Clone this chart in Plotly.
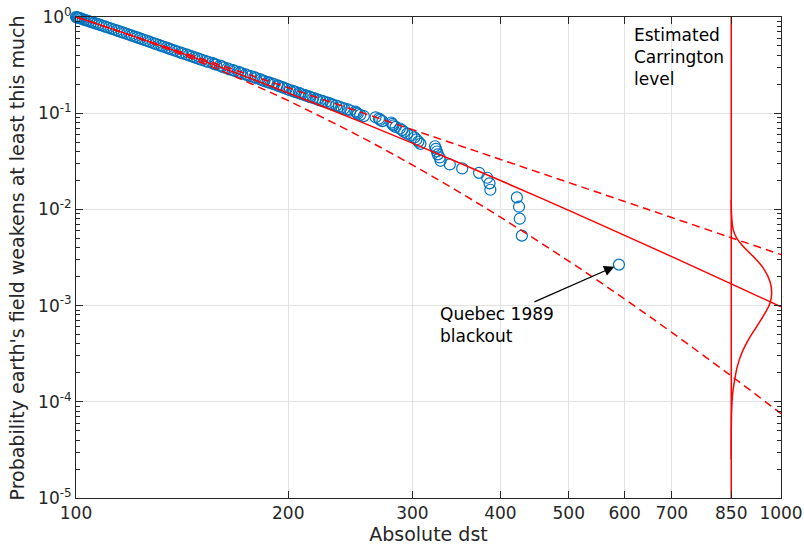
import math
import plotly.graph_objects as go

# ---------------- data ----------------
n_storms = 375
storm_rank = [
    1, 2, 3, 4, 5, 6, 7, 8, 9, 10, 11, 12, 13, 14, 15, 16, 17, 18, 19, 20,
    21, 22, 23, 24, 25, 26, 27, 28, 29, 30, 31, 32, 33, 34, 35, 36, 37, 38, 39, 40,
    41, 42,
    43, 44, 45, 46, 47, 48, 49, 50, 51, 52,
    53, 54, 55, 56, 57, 58, 59, 60, 61, 62,
    63, 64, 65, 67, 69, 70, 72, 73, 75, 76,
    78, 79, 81, 82, 84, 85, 87, 89, 91, 93,
    95, 97, 99, 101, 103, 105, 107, 110, 112, 115,
    117, 120, 122, 125, 128, 131, 134, 137, 140, 143,
    146, 150, 153, 157, 160, 164, 168, 172, 176, 180,
    184, 188, 192, 197, 201, 206, 210, 215, 220, 225,
    230, 235, 240, 245, 250, 256, 261, 267, 272, 278,
    284, 290, 296, 302, 308, 314, 320, 326, 332, 338,
    344, 350, 355, 360, 364, 367, 370, 372, 375,
]
storm_dst = [
    589, 429, 426, 425, 422, 387, 386, 383, 373, 353,
    339, 329, 328, 326, 325, 324, 323, 308, 306, 304,
    302, 299, 295, 292, 290, 288, 284, 282, 281, 280,
    272, 270, 269, 266, 256, 253, 251, 250, 249, 245,
    243, 240,
    238, 236, 234, 231, 230, 228, 226, 224, 222, 220,
    219, 217, 215, 214, 212, 211, 209, 208, 207, 205,
    204, 203, 201, 199, 197, 196, 194, 193, 191, 190,
    188, 187, 185, 184, 183, 182, 180, 179, 177, 175,
    174, 172, 171, 170, 168, 167, 165, 164, 162, 161,
    160, 158, 157, 156, 153.9, 152.5, 151.0, 149.8, 148.5, 147.2,
    146.0, 144.5, 143.4, 141.6, 140.8, 139.3, 138.1, 136.7, 135.6, 134.4,
    133.2, 132.1, 131.0, 129.7, 128.7, 127.5, 126.5, 125.4, 124.3, 123.2,
    122.1, 121.1, 120.0, 119.1, 118.1, 117.0, 116.1, 115.0, 114.2, 113.2,
    112.2, 111.2, 110.3, 109.4, 108.5, 107.7, 106.8, 106.0, 105.2, 104.4,
    103.7, 102.9, 102.3, 101.7, 101.3, 100.9, 100.6, 100.3, 100.0,
]
storm_prob = [r / n_storms for r in storm_rank]

# fitted tail model and its confidence band
model_dst = [100, 110, 120, 140, 160, 180, 200, 250, 300, 350, 400, 500, 600, 700, 850, 1000]
model_fit = [1.0, 0.7949, 0.6406, 0.4311, 0.3019, 0.2184, 0.1622, 0.08472, 0.04891,
             0.03037, 0.01996, 0.009758, 0.005376, 0.003227, 0.001684, 0.000971]
model_upper = [1.0, 0.7933, 0.6419, 0.4406, 0.3176, 0.2378, 0.1836, 0.1058, 0.06747,
               0.04606, 0.03307, 0.01901, 0.01208, 0.00823, 0.005075, 0.003385]
model_lower = [1.0, 0.7948, 0.6366, 0.4170, 0.2802, 0.1924, 0.1349, 0.0598, 0.02897,
               0.01506, 0.008302, 0.002902, 0.001171, 0.0005265, 0.0001856, 0.0000753]

# Carrington level and distribution of the estimated probability there
carrington_dst = 850
carr_log_prob = [-1.90, -2.00, -2.074, -2.213, -2.299, -2.386, -2.490, -2.611, -2.750,
                 -2.871, -2.975, -3.079, -3.218, -3.357, -3.495, -3.634, -3.773, -3.911,
                 -4.085, -4.327, -4.60]
carr_curve_dst = [850.0, 850.3, 851.2, 855.6, 865.3, 884.1, 913.5, 943.9, 964.7,
                  970.0, 964.7, 949.1, 923.7, 898.8, 879.5, 866.9, 859.6, 854.0,
                  851.2, 850.0, 850.0]

x_ticks = [100, 200, 300, 400, 500, 600, 700, 850, 1000]
y_ticks = [1e-5, 1e-4, 1e-3, 1e-2, 1e-1, 1]
y_ticktext = ["10<sup>-5</sup>", "10<sup>-4</sup>", "10<sup>-3</sup>",
              "10<sup>-2</sup>", "10<sup>-1</sup>", "10<sup>0</sup>"]
y_minor = [k * 10.0 ** d for d in range(-5, 0) for k in range(2, 10)]

# ---------------- styles ----------------
BLUE = "#0072BD"
RED = "#FF0000"
AX = "#262626"
FONT = "DejaVu Sans"

fig = go.Figure()

fig.add_trace(go.Scatter(
    x=storm_dst, y=storm_prob, mode="markers",
    marker=dict(symbol="circle-open", size=11, color=BLUE, line=dict(width=1.2, color=BLUE)),
    cliponaxis=False, showlegend=False, hoverinfo="skip"))

fig.add_trace(go.Scatter(
    x=[carrington_dst, carrington_dst], y=[1e-5, 1], mode="lines",
    line=dict(color=RED, width=1.5), showlegend=False))

fig.add_trace(go.Scatter(
    x=carr_curve_dst, y=[10 ** v for v in carr_log_prob], mode="lines",
    line=dict(color=RED, width=1.5, shape="spline"), showlegend=False))

fig.add_trace(go.Scatter(
    x=model_dst, y=model_fit, mode="lines",
    line=dict(color=RED, width=1.5, shape="spline"), showlegend=False))
for band in (model_upper, model_lower):
    fig.add_trace(go.Scatter(
        x=model_dst, y=band, mode="lines",
        line=dict(color=RED, width=1.5, dash="8px,5px", shape="spline"), showlegend=False))

axis_common = dict(
    showline=True, linecolor=AX, linewidth=1, mirror="ticks",
    ticks="inside", ticklen=7, tickcolor=AX, tickwidth=1,
    showgrid=True, gridcolor="#e2e2e2", gridwidth=1, zeroline=False,
    tickfont=dict(family=FONT, size=17, color=AX),
    automargin=False,
)

fig.update_xaxes(
    type="log", range=[2, 3], tickmode="array", tickvals=x_ticks,
    ticktext=[str(v) for v in x_ticks],
    title=dict(text="Absolute dst", font=dict(family=FONT, size=19, color=AX), standoff=10),
    **axis_common)
fig.update_yaxes(
    type="log", range=[-5, 0], tickmode="array", tickvals=y_ticks, ticktext=y_ticktext,
    minor=dict(tickmode="array", tickvals=y_minor, ticks="inside", ticklen=4,
               tickcolor=AX, showgrid=False),
    **axis_common)

quebec_x = storm_dst[0]
quebec_y = storm_prob[0]

fig.update_layout(
    width=804, height=545,
    margin=dict(l=76, r=23, t=17, b=47),
    paper_bgcolor="white", plot_bgcolor="white",
    font=dict(family=FONT, size=16, color=AX),
    annotations=[
        dict(x=-0.0837, y=0.5, xref="paper", yref="paper",
             text="Probability earth's field weakens at least this much",
             textangle=-90, showarrow=False, xanchor="center", yanchor="middle",
             font=dict(family=FONT, size=19, color=AX)),
        dict(x=math.log10(quebec_x), y=math.log10(quebec_y), xref="x", yref="y",
             text="", showarrow=True, arrowhead=2, arrowsize=1.6, arrowwidth=1.3,
             arrowcolor="black", ax=-86, ay=38, standoff=5),
        dict(x=math.log10(326), y=math.log10(6.3e-4), xref="x", yref="y",
             text="Quebec 1989<br>blackout", showarrow=False, xanchor="left",
             yanchor="middle", align="left",
             font=dict(family=FONT, size=17, color="black")),
        dict(x=math.log10(615), y=math.log10(0.38), xref="x", yref="y",
             text="Estimated<br>Carrington<br>level", showarrow=False, xanchor="left",
             yanchor="middle", align="left",
             font=dict(family=FONT, size=17, color="black")),
    ],
)

fig.write_html("out.html")
